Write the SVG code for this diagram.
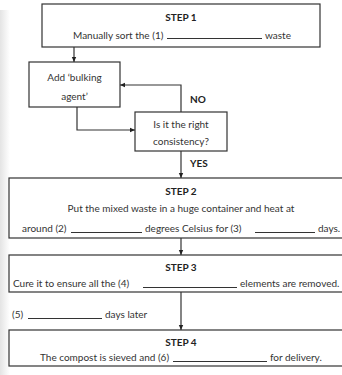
<svg xmlns="http://www.w3.org/2000/svg" width="342" height="375" viewBox="0 0 342 375">
<defs>
<linearGradient id="shade" x1="0" y1="0" x2="1" y2="0">
<stop offset="0" stop-color="#e4e4e4"/>
<stop offset="1" stop-color="#ffffff"/>
</linearGradient>
<marker id="ah" markerWidth="6" markerHeight="6" refX="5" refY="3" orient="auto" markerUnits="userSpaceOnUse">
<path d="M0,0.8 L5,3 L0,5.2 Z" fill="#222"/>
</marker>
<style>
.box{fill:#fff;stroke:#333;stroke-width:1.2}
.ln{fill:none;stroke:#333;stroke-width:1.2}
.t{font-family:Lato,"Open Sans",sans-serif;font-size:10px;fill:#333}
.b{font-family:Lato,"Open Sans",sans-serif;font-size:10px;font-weight:bold;fill:#222}
.u{stroke:#333;stroke-width:1}
</style>
</defs>
<rect x="0" y="0" width="342" height="375" fill="#fff"/>
<rect x="0" y="10" width="10" height="365" fill="url(#shade)"/>
<g id="connectors">
<line class="ln" x1="74" y1="47" x2="74" y2="62" marker-end="url(#ah)"/>
<polyline class="ln" points="181,112 181,85 120,85" marker-end="url(#ah)"/>
<polyline class="ln" points="77,107 77,130 135,130" marker-end="url(#ah)"/>
<line class="ln" x1="181" y1="151" x2="181" y2="178" marker-end="url(#ah)"/>
<line class="ln" x1="181" y1="238" x2="181" y2="255" marker-end="url(#ah)"/>
<line class="ln" x1="181" y1="292" x2="181" y2="330" marker-end="url(#ah)"/>
<text class="b" x="190" y="103">NO</text>
<text class="b" x="190" y="167">YES</text>
<text class="t" x="12" y="318">(5)</text>
<line class="u" x1="28" y1="318.5" x2="102" y2="318.5"/>
<text class="t" x="105" y="318">days later</text>
</g>
<g id="step1">
<rect class="box" x="42" y="4" width="278" height="43"/>
<text class="b" x="181" y="21" text-anchor="middle">STEP 1</text>
<text class="t" x="73" y="38.5">Manually sort the (1)</text>
<line class="u" x1="167" y1="38.5" x2="262" y2="38.5"/>
<text class="t" x="265" y="38.5">waste</text>
</g>
<g id="bulking">
<rect class="box" x="29" y="62" width="91" height="45"/>
<text class="t" x="74.5" y="80.5" text-anchor="middle">Add ‘bulking</text>
<text class="t" x="74.5" y="100" text-anchor="middle">agent’</text>
</g>
<g id="decision">
<rect class="box" x="135" y="112" width="92" height="39"/>
<text class="t" x="181" y="128" text-anchor="middle">Is it the right</text>
<text class="t" x="181" y="145" text-anchor="middle">consistency?</text>
</g>
<g id="step2">
<rect class="box" x="9" y="178" width="340" height="60"/>
<text class="b" x="181" y="195" text-anchor="middle">STEP 2</text>
<text class="t" x="181" y="212" text-anchor="middle">Put the mixed waste in a huge container and heat at</text>
<text class="t" x="22" y="232">around (2)</text>
<line class="u" x1="71" y1="232.5" x2="142" y2="232.5"/>
<text class="t" x="145" y="232">degrees Celsius for (3)</text>
<line class="u" x1="255" y1="232.5" x2="315" y2="232.5"/>
<text class="t" x="318" y="232">days.</text>
</g>
<g id="step3">
<rect class="box" x="9" y="255" width="340" height="37"/>
<text class="b" x="181" y="271" text-anchor="middle">STEP 3</text>
<text class="t" x="13" y="287">Cure it to ensure all the (4)</text>
<line class="u" x1="143" y1="287.5" x2="237" y2="287.5"/>
<text class="t" x="240" y="287">elements are removed.</text>
</g>
<g id="step4">
<rect class="box" x="9" y="330" width="340" height="36"/>
<text class="b" x="181" y="346" text-anchor="middle">STEP 4</text>
<text class="t" x="40" y="361">The compost is sieved and (6)</text>
<line class="u" x1="173" y1="361.5" x2="267" y2="361.5"/>
<text class="t" x="270" y="361">for delivery.</text>
</g>
</svg>
